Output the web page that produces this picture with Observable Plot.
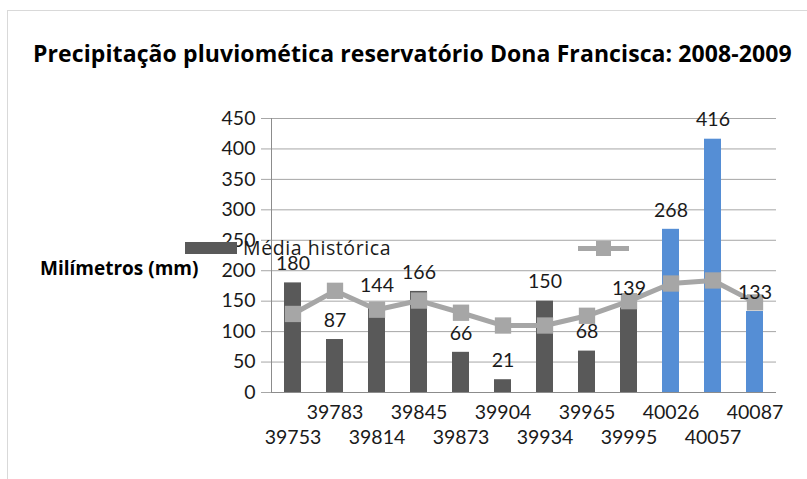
<!DOCTYPE html>
<html>
<head>
<meta charset="utf-8">
<script src="https://cdn.jsdelivr.net/npm/d3@7"></script>
<script src="https://cdn.jsdelivr.net/npm/@observablehq/plot@0.6"></script>
<style>
  html, body { margin: 0; padding: 0; background: #fff; }
  #wrap { position: relative; width: 807px; height: 479px; overflow: hidden; font-family: Lato, "Open Sans", sans-serif; }
  #border { position: absolute; left: 7px; top: 10px; right: -2px; bottom: -2px; border-top: 1px solid #d9d9d9; border-left: 1px solid #d9d9d9; }
  #title { position: absolute; left: 33px; top: 41.5px; font-family: "Open Sans", sans-serif; font-size: 23px; letter-spacing: 0.1px; font-weight: bold; line-height: 1; white-space: nowrap; color: #000; }
  #ylabel { position: absolute; left: 40px; top: 259px; font-family: "Open Sans", sans-serif; font-size: 19px; font-weight: bold; line-height: 1; white-space: nowrap; color: #000; }
  #chart { position: absolute; left: 0; top: 0; }
  .leg { position: absolute; }
</style>
</head>
<body>
<div id="wrap">
  <div id="border"></div>
  <div id="chart"></div>
  <div id="title"></div>
  <div id="ylabel"></div>
  <div class="leg" id="legBar" style="left:185px;top:242px;width:52px;height:12px;background:#595959;"></div>
  <div class="leg" id="legText" style="left:243px;top:237.5px;font-family:'Open Sans',sans-serif;font-size:19.5px;letter-spacing:0.6px;line-height:1;white-space:nowrap;color:#1a1a1a;"></div>
  <div class="leg" style="left:578px;top:246px;width:51px;height:5px;background:#a6a6a6;"></div>
  <div class="leg" style="left:596px;top:241px;width:15px;height:15px;background:#a6a6a6;"></div>
</div>
<script>
const titleText = "Precipitação pluviomética reservatório Dona Francisca: 2008-2009";
const yLabelText = "Milímetros (mm)";
const legendText = "Média histórica";
const categories = ["39753","39783","39814","39845","39873","39904","39934","39965","39995","40026","40057","40087"];
const precipitation = [180, 87, 144, 166, 66, 21, 150, 68, 139, 268, 416, 133];
const historicalMean = [129, 167, 136, 151, 131, 110, 110, 126, 150, 179, 184, 148];
const highlighted = ["40026","40057","40087"];
const yTicks = [0, 50, 100, 150, 200, 250, 300, 350, 400, 450];

document.getElementById("title").textContent = titleText;
document.getElementById("ylabel").textContent = yLabelText;
document.getElementById("legText").textContent = legendText;

const data = categories.map((c, i) => ({
  cat: c,
  value: precipitation[i],
  media: historicalMean[i],
  group: highlighted.includes(c) ? "recent" : "hist"
}));
const upper = categories.filter((c, i) => i % 2 === 1);
const lower = categories.filter((c, i) => i % 2 === 0);

const fs = 19.5;
const plot = Plot.plot({
  width: 807,
  height: 479,
  marginLeft: 271,
  marginRight: 31,
  marginTop: 118,
  marginBottom: 87,
  style: { fontFamily: "Lato, 'Open Sans', sans-serif", background: "transparent", overflow: "visible" },
  x: { type: "band", domain: categories, paddingInner: 0.6, paddingOuter: 0.3, label: null },
  y: { domain: [0, 450], label: null },
  color: { domain: ["hist", "recent"], range: ["#595959", "#558ed5"] },
  marks: [
    Plot.gridY(yTicks, { stroke: "#a6a6a6", strokeOpacity: 1 }),
    Plot.axisY({ ticks: yTicks, tickSize: 10, tickPadding: 6, fontSize: fs, stroke: "#a6a6a6", strokeOpacity: 1, fill: "#1a1a1a", label: null }),
    Plot.frame({ anchor: "left", stroke: "#8c8c8c" }),
    Plot.ruleY([0], { stroke: "#8c8c8c" }),
    Plot.barY(data, { x: "cat", y: "value", fill: "group" }),
    Plot.line(data, { x: "cat", y: "media", stroke: "#a6a6a6", strokeWidth: 5 }),
    Plot.dot(data, { x: "cat", y: "media", symbol: "square", r: 9.2, fill: "#a6a6a6", stroke: "none" }),
    Plot.text(data, { x: "cat", y: "value", text: d => String(d.value), dy: -19, fontSize: fs, fill: "#1a1a1a" }),
    Plot.axisX({ ticks: upper, tickSize: 0, tickPadding: 13, fontSize: fs, fill: "#1a1a1a", label: null }),
    Plot.axisX({ ticks: lower, tickSize: 0, tickPadding: 38, fontSize: fs, fill: "#1a1a1a", label: null })
  ]
});
document.getElementById("chart").appendChild(plot);
</script>
</body>
</html>
